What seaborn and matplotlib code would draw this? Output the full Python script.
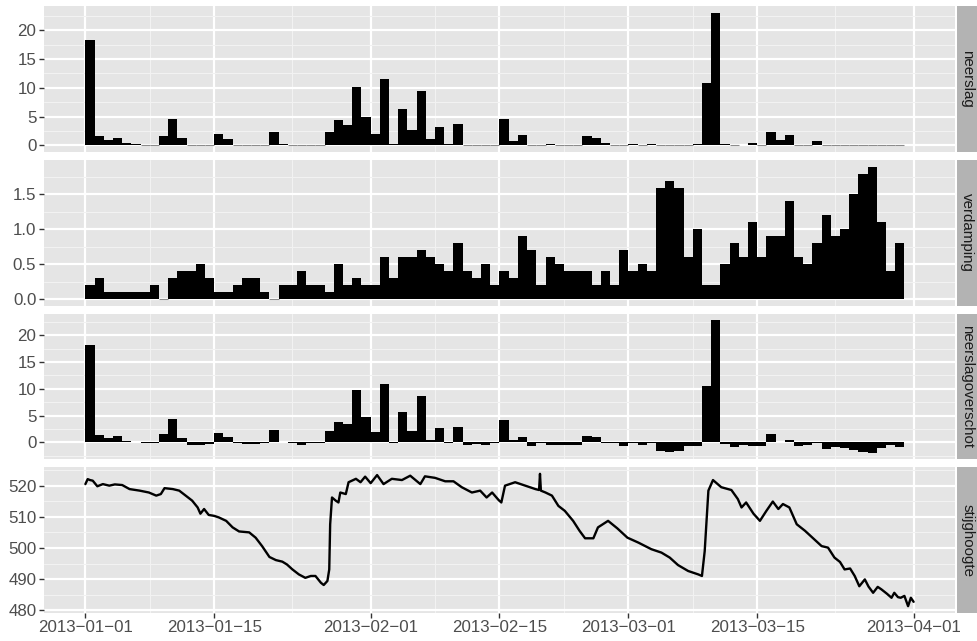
import numpy as np
import pandas as pd
import seaborn as sns
import matplotlib.pyplot as plt
import matplotlib.dates as mdates
from matplotlib.ticker import MultipleLocator
from matplotlib.patches import Rectangle

#------------DATA-------------
start = pd.Timestamp("2013-01-01")
days = pd.date_range(start, periods=89, freq="D")

# neerslag (mm/day)
neerslag = [18.3, 1.7, 0.9, 1.3, 0.35, 0.25, 0, 0, 1.6, 4.65,
            1.3, 0, 0, 0, 1.9, 1.1, 0, 0, 0, 0,
            2.35, 0.25, 0, 0, 0, 0, 2.25, 4.4, 3.55, 10.1,
            4.95, 2.05, 11.55, 0.25, 6.3, 2.75, 9.4, 1.05, 3.15, 0.25,
            3.75, 0, 0, 0, 0, 4.5, 0.75, 1.85, 0, 0,
            0.2, 0, 0, 0, 1.6, 1.3, 0.35, 0, 0, 0.25,
            0, 0.25, 0, 0, 0, 0, 0.25, 10.8, 23.0, 0.2,
            0, 0.05, 0.5, 0, 2.4, 1.0, 1.85, 0, 0, 0.7,
            0, 0, 0, 0, 0, 0, 0, 0, 0]

# verdamping (mm/day)
verdamping = [0.2, 0.3, 0.1, 0.1, 0.1, 0.1, 0.1, 0.2, 0, 0.3,
              0.4, 0.4, 0.5, 0.3, 0.1, 0.1, 0.2, 0.3, 0.3, 0.1,
              0, 0.2, 0.2, 0.4, 0.2, 0.2, 0.1, 0.5, 0.2, 0.3,
              0.2, 0.2, 0.6, 0.3, 0.6, 0.6, 0.7, 0.6, 0.5, 0.4,
              0.8, 0.4, 0.3, 0.5, 0.2, 0.4, 0.3, 0.9, 0.7, 0.2,
              0.6, 0.5, 0.4, 0.4, 0.4, 0.2, 0.4, 0.2, 0.7, 0.4,
              0.5, 0.4, 1.6, 1.7, 1.6, 0.6, 1.0, 0.2, 0.2, 0.5,
              0.8, 0.6, 1.1, 0.6, 0.9, 0.9, 1.4, 0.6, 0.5, 0.8,
              1.2, 0.9, 1.0, 1.5, 1.8, 1.9, 1.1, 0.4, 0.8]

# neerslagoverschot (mm/day)
overschot = [18.1, 1.4, 0.8, 1.2, 0.25, 0.15, -0.1, -0.2, 1.6, 4.35,
             0.9, -0.4, -0.5, -0.3, 1.8, 1.0, -0.2, -0.3, -0.3, -0.1,
             2.35, 0.05, -0.2, -0.4, -0.2, -0.2, 2.15, 3.9, 3.35, 9.8,
             4.75, 1.85, 10.95, -0.05, 5.7, 2.15, 8.7, 0.45, 2.65, -0.15,
             2.95, -0.4, -0.3, -0.5, -0.2, 4.1, 0.45, 0.95, -0.7, -0.2,
             -0.4, -0.5, -0.4, -0.4, 1.2, 1.1, -0.05, -0.2, -0.7, -0.15,
             -0.5, -0.15, -1.6, -1.7, -1.6, -0.6, -0.75, 10.6, 22.8, -0.3,
             -0.8, -0.55, -0.6, -0.6, 1.5, 0.1, 0.45, -0.6, -0.5, -0.1,
             -1.2, -0.9, -1.0, -1.5, -1.8, -1.9, -1.1, -0.4, -0.8]

# stijghoogte: day offset from 2013-01-01 and head
stijg_dag = [0.0, 0.25, 0.5, 0.8, 1.3, 1.9, 2.6, 3.2, 4.0, 4.8,
             5.9, 6.9, 7.7, 8.2, 8.6, 9.5, 10.2, 10.9, 11.6, 12.2,
             12.5, 12.9, 13.4, 14.0, 14.5, 15.3, 16.0, 16.7, 17.8, 18.5,
             19.2, 20.0, 20.7, 21.4, 21.9, 22.5, 23.2, 23.9, 24.5, 25.0,
             25.6, 25.9, 26.3, 26.5, 26.6, 26.8, 27.2, 27.5, 27.7, 28.3,
             28.6, 29.4, 29.9, 30.4, 31.0, 31.7, 32.4, 33.3, 34.4, 35.3,
             36.4, 36.9, 38.0, 39.1, 40.0, 40.9, 42.0, 42.9, 43.6, 44.2,
             44.9, 45.2, 45.6, 46.7, 47.8, 48.9, 49.3, 49.4, 49.5, 50.0,
             50.7, 51.4, 52.1, 53.0, 53.7, 54.3, 55.2, 55.7, 56.8, 57.8,
             58.9, 60.1, 61.5, 62.6, 63.5, 64.4, 65.5, 66.6, 67.0, 67.3,
             67.7, 68.2, 69.1, 70.2, 70.9, 71.3, 71.8, 72.6, 73.3, 74.0,
             74.7, 75.3, 75.8, 76.5, 77.3, 78.2, 79.2, 80.0, 80.7, 81.4,
             82.0, 82.5, 83.1, 83.6, 84.1, 84.7, 85.1, 85.6, 86.1, 86.5,
             87.1, 87.6, 87.9, 88.3, 88.6, 89.0, 89.4, 89.7, 90.0]
stijg_waarde = [520.5, 522.1, 521.8, 521.6, 519.8, 520.5, 520.0, 520.4, 520.2, 518.9,
                518.4, 517.8, 516.8, 517.3, 519.2, 518.9, 518.4, 516.8, 515.2, 513.0,
                511.0, 512.5, 510.6, 510.3, 509.8, 508.7, 506.6, 505.3, 505.0, 503.3,
                500.6, 497.1, 496.1, 495.6, 494.7, 493.1, 491.5, 490.4, 491.0, 491.0,
                488.8, 488.1, 489.4, 493.1, 507.6, 516.2, 515.2, 514.6, 517.8, 517.3,
                521.1, 522.2, 521.1, 522.9, 520.8, 523.4, 520.5, 522.2, 521.8, 523.2,
                520.5, 523.0, 522.5, 521.4, 521.4, 519.5, 517.8, 518.4, 516.2, 517.8,
                515.4, 514.6, 520.0, 521.1, 520.0, 518.9, 518.6, 523.8, 518.4, 517.8,
                516.8, 513.5, 511.9, 508.7, 505.5, 503.1, 503.1, 506.6, 508.7, 506.3,
                503.3, 501.7, 499.6, 498.5, 496.9, 494.5, 492.6, 491.5, 491.0, 499.0,
                518.4, 521.8, 519.5, 518.6, 515.7, 513.0, 514.6, 511.0, 508.7, 511.9,
                514.9, 512.5, 514.1, 513.0, 507.6, 505.5, 502.8, 500.6, 500.1, 496.9,
                495.5, 493.1, 493.4, 491.0, 487.7, 489.9, 487.6, 485.6, 487.5, 486.7,
                485.3, 484.0, 485.6, 484.2, 484.0, 484.6, 481.3, 484.0, 482.7]

panels = ["neerslag", "verdamping", "neerslagoverschot", "stijghoogte"]

#------------STYLE-------------
sns.set_theme(style="darkgrid", rc={
    "axes.facecolor": "#E5E5E5",
    "grid.color": "white",
    "axes.edgecolor": "none",
    "figure.facecolor": "white",
})
plt.rcParams["font.family"] = ["Liberation Sans", "DejaVu Sans"]
fs = 12.2
strip_fs = 10.9

fig, axes = plt.subplots(4, 1, figsize=(9.77, 6.41), dpi=100, sharex=True)
fig.subplots_adjust(left=0.045, right=0.9775, top=0.99, bottom=0.044, hspace=0.055)

xmin = start - pd.Timedelta(days=4.5)
xmax = start + pd.Timedelta(days=94.5)

def bars(ax, values):
    values = np.asarray(values, dtype=float)
    edge = ["#8C8C8C" if v == 0 else "black" for v in values]
    lw = [0.8 if v == 0 else 0 for v in values]
    ax.bar(days, values, width=1.0, align="edge", color="black",
           edgecolor=edge, linewidth=lw)

bars(axes[0], neerslag)
bars(axes[1], verdamping)
bars(axes[2], overschot)

stijg_tijd = start + pd.to_timedelta(stijg_dag, unit="D")
sns.lineplot(x=stijg_tijd, y=stijg_waarde, ax=axes[3], color="black",
             linewidth=1.7, estimator=None)

# y limits like ggplot (5% expansion)
def expand(lo, hi):
    r = hi - lo
    return lo - 0.05 * r, hi + 0.05 * r

axes[0].set_ylim(expand(0, max(neerslag)))
axes[1].set_ylim(expand(0, max(verdamping)))
axes[2].set_ylim(expand(min(overschot), max(overschot)))
axes[3].set_ylim(expand(min(stijg_waarde), max(stijg_waarde)))

ymajor = [5, 0.5, 5, 10]
for ax, name, step in zip(axes, panels, ymajor):
    ax.set_xlim(xmin, xmax)
    ax.yaxis.set_major_locator(MultipleLocator(step))
    ax.yaxis.set_minor_locator(MultipleLocator(step / 2))
    ax.grid(which="major", color="white", linewidth=1.6)
    ax.grid(which="minor", color="#F2F2F2", linewidth=0.8)
    ax.set_axisbelow(True)
    ax.set_xlabel("")
    ax.set_ylabel("")
    ax.tick_params(axis="y", which="major", left=True, length=3.5, width=1.0,
                   color="#333333", labelcolor="#4D4D4D", labelsize=fs, pad=2)
    ax.tick_params(axis="y", which="minor", left=False)
    ax.tick_params(axis="x", which="both", bottom=False, labelbottom=False)
    # facet strip on the right
    ax.add_patch(Rectangle((1.0025, 0), 0.03, 1, transform=ax.transAxes,
                           facecolor="#B3B3B3", edgecolor="none", clip_on=False))
    ax.text(1.0135, 0.5, name, transform=ax.transAxes, rotation=-90,
            ha="center", va="center", fontsize=strip_fs, color="#1A1A1A")

# date axis on bottom panel
major_dates = pd.to_datetime(["2013-01-01", "2013-01-15", "2013-02-01", "2013-02-15",
                              "2013-03-01", "2013-03-15", "2013-04-01"])
minor_dates = [major_dates[i] + (major_dates[i + 1] - major_dates[i]) / 2
               for i in range(len(major_dates) - 1)]
ax = axes[3]
ax.set_xticks(major_dates)
ax.set_xticks(minor_dates, minor=True)
ax.xaxis.set_major_formatter(mdates.DateFormatter("%Y\u2212%m\u2212%d"))
ax.tick_params(axis="x", which="major", bottom=True, labelbottom=True, length=3.5,
               width=1.0, color="#333333", labelcolor="#4D4D4D", labelsize=fs, pad=2)
ax.tick_params(axis="x", which="minor", bottom=False)
for a in axes[:3]:
    a.tick_params(axis="x", which="both", bottom=False, labelbottom=False)

plt.savefig("out.png", dpi=100)
